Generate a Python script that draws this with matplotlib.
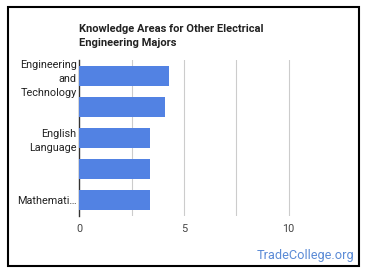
import matplotlib.pyplot as plt
from matplotlib.patches import Rectangle

plt.rcParams["font.family"] = ["Roboto", "DejaVu Sans"]

# data
categories = ["Engineering\nand\nTechnology", "", "English\nLanguage", "", "Mathemati\u2026"]
values = [4.3, 4.1, 3.4, 3.4, 3.4]
xticks = [0, 5, 10]

bar_color = "#5282e3"

fig = plt.figure(figsize=(3.7, 2.78), dpi=100)
ax = fig.add_axes([0.2143, 0.223, 0.7073, 0.561])

ax.barh(range(len(values)), values, height=0.64, color=bar_color, zorder=3)

ax.set_xlim(0, 12.5)
ax.set_ylim(len(values) - 0.5, -0.5)

# vertical grid every 2.5
for g in [2.5, 5, 7.5, 10]:
    ax.axvline(g, color="#cccccc", linewidth=0.8, zorder=1)

ax.set_xticks(xticks)
ax.set_xticklabels([str(t) for t in xticks], fontsize=7.8, color="#444444")
ax.set_yticks(range(len(values)))
ax.set_yticklabels(categories, fontsize=7.8, color="#222222", linespacing=1.5)
ax.tick_params(axis="both", length=0, pad=6)
ax.tick_params(axis="y", pad=2)

for s in ["top", "right", "bottom"]:
    ax.spines[s].set_visible(False)
ax.spines["left"].set_color("#333333")
ax.spines["left"].set_linewidth(1.0)

fig.text(79 / 370, 1 - 36 / 278, "Knowledge Areas for Other Electrical\nEngineering Majors",
         fontsize=8, fontweight="bold", color="#222222", ha="left", va="center",
         linespacing=1.6)

fig.text(354 / 370, 1 - 256 / 278, "TradeCollege.org", fontsize=9.2,
         color="#5b8bd6", ha="right", va="center")

# outer frame
fig.patches.append(Rectangle((8 / 370, 1 - 266 / 278), 351 / 370, 259 / 278,
                             transform=fig.transFigure, fill=False,
                             edgecolor="black", linewidth=1.5))

fig.savefig("out.png", dpi=100)
